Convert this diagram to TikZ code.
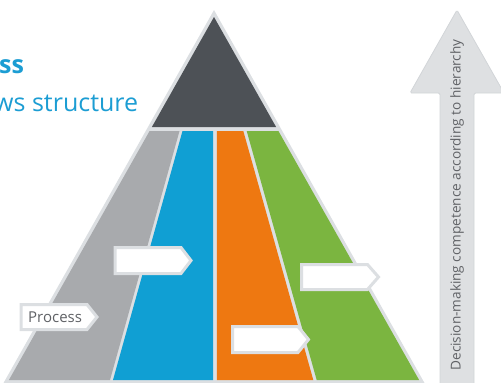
\documentclass[tikz,border=0pt]{standalone}
\usepackage{fontspec}
\setmainfont{Open Sans}
\definecolor{bordergray}{HTML}{DCDFE2}
\definecolor{darktop}{HTML}{4D5156}
\definecolor{bandgray}{HTML}{A8AAAD}
\definecolor{bandblue}{HTML}{109FD3}
\definecolor{bandorange}{HTML}{EE7811}
\definecolor{bandgreen}{HTML}{7BB540}
\definecolor{titleblue}{HTML}{1C9DD3}
\definecolor{arrowfill}{HTML}{DEE0E2}
\definecolor{arrowline}{HTML}{D2D5D8}
\definecolor{textgray}{HTML}{606266}
\begin{document}
\begin{tikzpicture}[x=1pt,y=-1pt,
  piece/.style={draw=none},
  tagbox/.style={fill=white,draw=bordergray,line width=3pt,line join=miter},
  lbl/.style={inner sep=0pt,text=textgray,font=\fontsize{15}{18}\selectfont}]
\useasboundingbox (0,0) rectangle (501,383);
\clip (0,0) rectangle (501,383);
% title fragments
\node[anchor=base west,inner sep=0pt,text=titleblue,font=\bfseries\fontsize{25}{30}\selectfont] (t1) at (-1,73) {ss};
\node[anchor=base west,inner sep=0pt,text=titleblue,font=\fontsize{25}{30}\selectfont] (t2) at (-6,111) {ws structure};
% pyramid outer border
\fill[bordergray] (214,10) -- (3.5,383) -- (424.5,383) -- cycle;
% top dark triangle
\fill[darktop] (214,17) -- (151.9,127) -- (276.1,127) -- cycle;
% bands
\fill[bandgray] (149.6,131) -- (179.5,131) -- (110,380) -- (8.9,380) -- cycle;
\fill[bandblue] (182.5,131) -- (213.2,131) -- (213.2,380) -- (113,380) -- cycle;
\fill[bandorange] (216.8,131) -- (243.3,131) -- (313.3,380) -- (216.8,380) -- cycle;
\fill[bandgreen] (246.7,131) -- (278.4,131) -- (419.1,380) -- (316.7,380) -- cycle;
% tags
\draw[tagbox] (21,304.5) -- (87,304.5) -- (97,317) -- (87,329.5) -- (21,329.5) -- cycle;
\node[lbl,anchor=west] (proc) at (28,317) {Process};
\draw[tagbox] (115,247.5) -- (181,247.5) -- (191,260.5) -- (181,273.5) -- (115,273.5) -- cycle;
\draw[tagbox] (232.5,326.5) -- (298,326.5) -- (308.5,339.5) -- (298,352.5) -- (232.5,352.5) -- cycle;
\draw[tagbox] (301.5,264.5) -- (367.5,264.5) -- (378.5,277) -- (367.5,289.5) -- (301.5,289.5) -- cycle;
% big arrow
\draw[fill=arrowfill,draw=arrowline,line width=0.8pt,rounded corners=1.5pt]
  (457,10) -- (504,93) -- (474,93) -- (474,390) -- (440,390) -- (440,93) -- (410,93) -- cycle;
\node[rotate=90,inner sep=0pt,text=textgray,font=\fontsize{13.6}{16}\selectfont] (arr) at (457,205) {Decision-making competence according to hierarchy};
\end{tikzpicture}
\end{document}
